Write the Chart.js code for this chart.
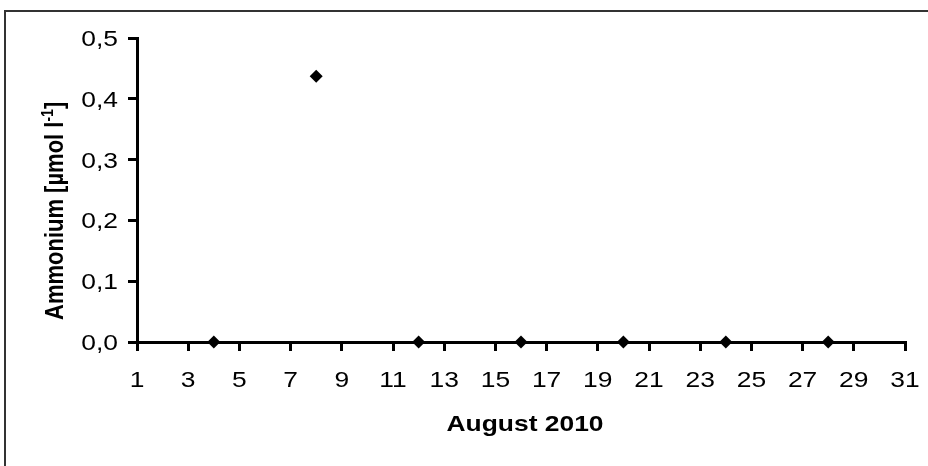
<!DOCTYPE html>
<html lang="de">
<head>
    <meta charset="UTF-8">
    <title>Ammonium August 2010</title>
    <script src="https://cdn.jsdelivr.net/npm/chart.js"></script>
    <style>
        body {
            margin: 0;
            background: #fff;
        }
        .wrap {
            position: relative;
            width: 928px;
            height: 466px;
            overflow: hidden;
        }
        .frame {
            position: absolute;
            left: 4px;
            top: 10px;
            width: 1000px;
            height: 1000px;
            border-top: 2px solid #333;
            border-left: 2px solid #333;
        }
        canvas {
            position: absolute;
            left: 0;
            top: 0;
        }
    </style>
</head>
<body>
    <div class="wrap">
        <div class="frame"></div>
        <canvas id="myChart" width="928" height="466"></canvas>
    </div>

    <script>
        // Dati (giorni di agosto 2010 e ammonio in µmol/l)
        const giorni = [4, 8, 12, 16, 20, 24, 28];
        const ammonio = [0, 0.437, 0, 0, 0, 0, 0];
        const titoloX = 'August 2010';
        const titoloY = 'Ammonium [µmol l';
        const esponenteY = '-1';

        const fontNome = "'Liberation Sans', Arial, sans-serif";
        const allargamento = 1.2; // il testo dell'originale è più largo

        function formatta(v) {
            return v.toFixed(1).replace('.', ',');
        }

        // Scrive un testo allargato in orizzontale
        function scrivi(ctx, testo, x, y, allinea) {
            ctx.save();
            ctx.translate(x, y);
            ctx.scale(allargamento, 1);
            ctx.textAlign = allinea;
            ctx.fillText(testo, 0, 0);
            ctx.restore();
        }

        // Etichette e titoli disegnati a mano (servono allargati e con esponente)
        const testiPlugin = {
            id: 'testi',
            afterDraw(chart) {
                const ctx = chart.ctx;
                const sx = chart.scales.x;
                const sy = chart.scales.y;
                ctx.save();
                ctx.fillStyle = '#000';
                ctx.textBaseline = 'alphabetic';
                ctx.font = '22px ' + fontNome;

                sx.ticks.forEach(t => {
                    scrivi(ctx, String(t.value), sx.getPixelForValue(t.value), 387, 'center');
                });
                sy.ticks.forEach(t => {
                    scrivi(ctx, formatta(t.value), 118, sy.getPixelForValue(t.value) + 8, 'right');
                });

                // titolo asse X
                ctx.font = 'bold 22px ' + fontNome;
                scrivi(ctx, titoloX, (chart.chartArea.left + chart.chartArea.right) / 2 + 4, 431, 'center');

                // titolo asse Y, ruotato
                ctx.translate(63, 320);
                ctx.scale(allargamento, 1);
                ctx.rotate(-Math.PI / 2);
                ctx.textAlign = 'left';
                ctx.fillText(titoloY, 0, 0);
                let x = ctx.measureText(titoloY).width;
                ctx.font = 'bold 14px ' + fontNome;
                ctx.fillText(esponenteY, x, -8);
                x += ctx.measureText(esponenteY).width;
                ctx.font = 'bold 22px ' + fontNome;
                ctx.fillText(']', x, 0);
                ctx.restore();
            }
        };

        const ctx = document.getElementById('myChart').getContext('2d');
        const myChart = new Chart(ctx, {
            type: 'scatter',
            data: {
                datasets: [{
                    data: giorni.map((g, i) => ({x: g, y: ammonio[i]})),
                    pointStyle: 'rectRot',
                    pointRadius: 6.5,
                    backgroundColor: '#000',
                    borderColor: '#000',
                    borderWidth: 0,
                    clip: false
                }]
            },
            options: {
                responsive: false,
                animation: false,
                layout: {
                    padding: {top: 38, right: 23, bottom: 0, left: 0}
                },
                plugins: {
                    legend: {display: false},
                    tooltip: {enabled: false}
                },
                scales: {
                    x: {
                        type: 'linear',
                        min: 1,
                        max: 31,
                        afterFit(scale) { scale.height = 124; },
                        border: {display: true, color: '#000', width: 3},
                        grid: {
                            drawOnChartArea: false,
                            drawTicks: true,
                            tickLength: 9,
                            color: '#000',
                            lineWidth: 3
                        },
                        ticks: {
                            display: false,
                            stepSize: 2
                        }
                    },
                    y: {
                        min: 0,
                        max: 0.5,
                        afterFit(scale) { scale.width = 137; },
                        border: {display: true, color: '#000', width: 3},
                        grid: {
                            drawOnChartArea: false,
                            drawTicks: true,
                            tickLength: 9,
                            color: '#000',
                            lineWidth: 3
                        },
                        ticks: {
                            display: false,
                            stepSize: 0.1
                        }
                    }
                }
            },
            plugins: [testiPlugin]
        });
    </script>
</body>
</html>
